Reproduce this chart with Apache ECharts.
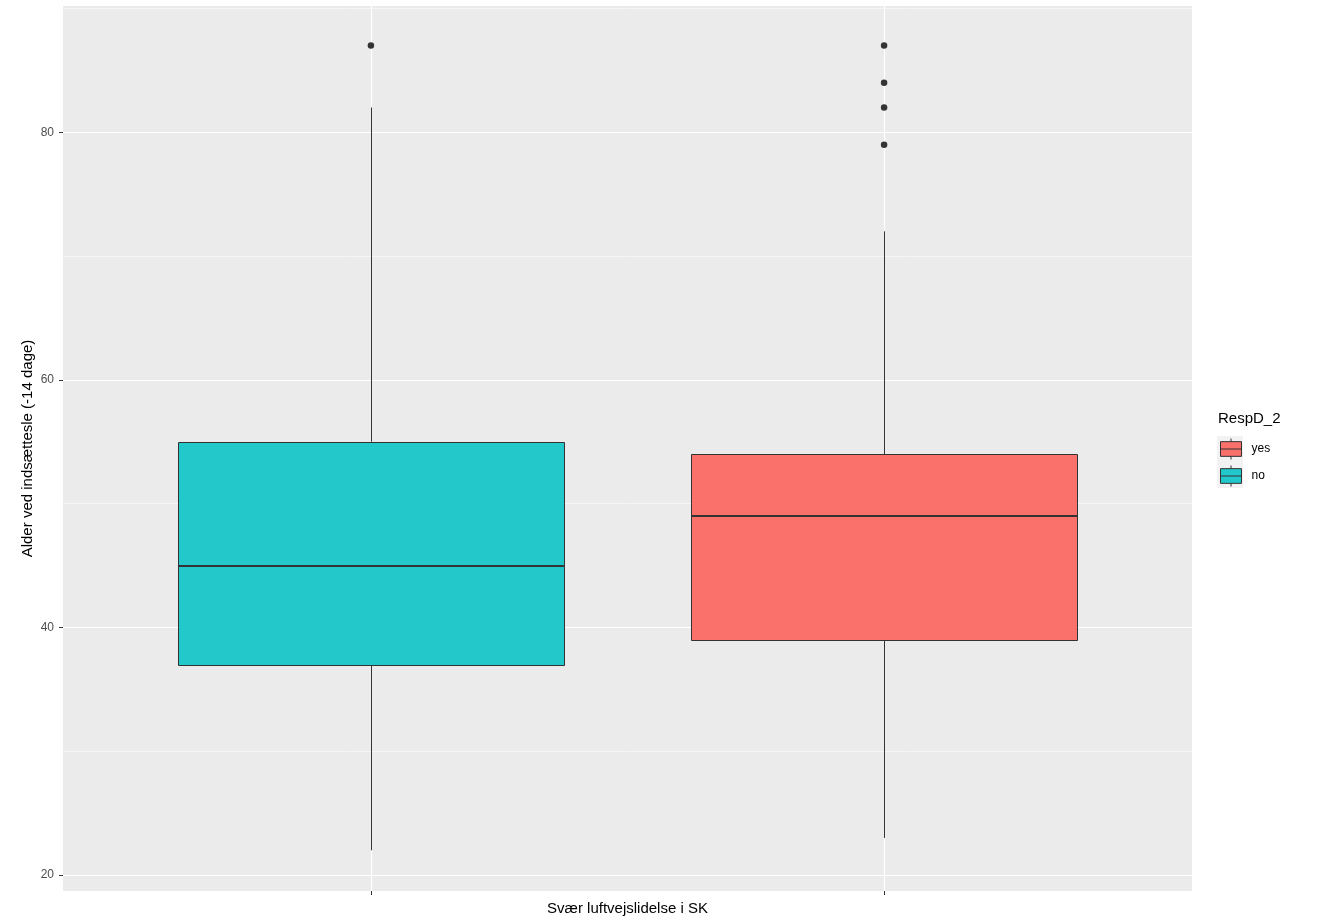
<!DOCTYPE html>
<html>
<head>
<meta charset="utf-8">
<script src="https://cdn.jsdelivr.net/npm/echarts@6/dist/echarts.min.js"></script>
<style>html,body{margin:0;padding:0;background:#fff}#c{width:1317px;height:920px}</style>
</head>
<body>
<div id="c"></div>
<script>
// ---- data ----
const groups = ['yes', 'no'];
const groupColors = ['#FA716C', '#22C8CA'];
// [lowerWhisker, Q1, median, Q3, upperWhisker]
const statsYes = [23, 39, 49, 54, 72];
const statsNo = [22, 37, 45, 55, 82];
const outliersYes = [87, 84, 82, 79];
const outliersNo = [87];
const yTicks = [20, 40, 60, 80];
const yMinorLines = [30, 50, 70, 90];
const xTitle = 'Svær luftvejslidelse i SK';
const yTitle = 'Alder ved indsættesle (-14 dage)';
const legendTitle = 'RespD_2';

// ---- layout ----
const groupPos = { yes: 8, no: 3 };
const HALF = 1.88;
const FONT = '"Liberation Sans", Arial, sans-serif';

function crisp(v) { return Math.round(v) + 0.5; }

function boxRender(color) {
  return function (params, api) {
    const x = api.value(0);
    const lo = api.coord([x, api.value(1)]);
    const q1 = api.coord([x, api.value(2)]);
    const md = api.coord([x, api.value(3)]);
    const q3 = api.coord([x, api.value(4)]);
    const hi = api.coord([x, api.value(5)]);
    const left = api.coord([x - HALF, 0])[0];
    const right = api.coord([x + HALF, 0])[0];
    const cx = crisp(lo[0]);
    const ls = { stroke: '#333333', lineWidth: 1 };
    return {
      type: 'group',
      children: [
        { type: 'line', shape: { x1: cx, y1: hi[1], x2: cx, y2: q3[1] }, style: ls },
        { type: 'line', shape: { x1: cx, y1: q1[1], x2: cx, y2: lo[1] }, style: ls },
        { type: 'rect', shape: { x: crisp(left), y: crisp(q3[1]), width: Math.round(right - left), height: Math.round(q1[1] - q3[1]) },
          style: { fill: color, stroke: '#333333', lineWidth: 1 } },
        { type: 'line', shape: { x1: left, y1: Math.round(md[1]), x2: right, y2: Math.round(md[1]) },
          style: { stroke: '#333333', lineWidth: 2 } }
      ]
    };
  };
}

const statsByGroup = { yes: statsYes, no: statsNo };
const outByGroup = { yes: outliersYes, no: outliersNo };

const series = [];
// holder for the minor horizontal grid lines
series.push({
  type: 'scatter', data: [], silent: true, z: 0,
  markLine: {
    silent: true, symbol: 'none', label: { show: false }, z: 0,
    lineStyle: { color: '#FAFAFA', width: 0.7, type: 'solid' },
    data: yMinorLines.map(v => ({ yAxis: v }))
  }
});
groups.forEach((g, i) => {
  series.push({
    name: g, type: 'custom', z: 5,
    renderItem: boxRender(groupColors[i]),
    itemStyle: { color: groupColors[i], borderColor: '#333333', borderWidth: 1 },
    encode: { x: 0, y: [1, 2, 3, 4, 5] },
    data: [[groupPos[g]].concat(statsByGroup[g])]
  });
});
series.push({
  type: 'scatter', z: 6, symbolSize: 6.5,
  itemStyle: { color: '#333333', opacity: 1 },
  data: groups.flatMap(g => outByGroup[g].map(v => [groupPos[g], v]))
});

const option = {
  animation: false,
  backgroundColor: '#ffffff',
  title: {
    text: legendTitle, left: 1218, top: 411, padding: 0,
    textStyle: { fontFamily: FONT, fontSize: 15, fontWeight: 'normal', color: '#000000' }
  },
  legend: {
    data: groups, orient: 'vertical', left: 1220, top: 438, padding: 0,
    itemWidth: 21, itemHeight: 21, itemGap: 5,
    icon: 'path://M10 0 L10 3 M0 3 L20 3 L20 17 L0 17 Z M0 10 L20 10 M10 17 L10 20',
    itemStyle: { borderColor: '#333333', borderWidth: 1 },
    textStyle: { fontFamily: FONT, fontSize: 12, color: '#000000', padding: [0, 0, 0, 5] },
    selectedMode: false
  },
  graphic: [{
    type: 'rect', left: 1217, top: 436, z: -1,
    shape: { width: 26, height: 52 }, style: { fill: '#F2F2F2' }
  }],
  grid: {
    left: 63, right: 125, top: 6, bottom: 29, show: true, backgroundColor: '#EBEBEB', borderWidth: 0,
    containLabel: false, outerBoundsMode: 'none'
  },
  xAxis: {
    type: 'value', min: 0, max: 11,
    name: xTitle, nameLocation: 'middle', nameGap: 10, nameMoveOverlap: false,
    nameTextStyle: { fontFamily: FONT, fontSize: 15, color: '#000000' },
    axisLine: { show: false },
    axisTick: { show: true, length: 4, lineStyle: { color: '#333333', width: 1 }, customValues: [groupPos.no, groupPos.yes] },
    axisLabel: { show: false, customValues: [groupPos.no, groupPos.yes] },
    splitLine: { show: true, lineStyle: { color: '#ffffff', width: 1.2 } }
  },
  yAxis: {
    type: 'value', min: 18.71, max: 90.2,
    name: yTitle, nameLocation: 'middle', nameRotate: 90, nameGap: 28, nameMoveOverlap: false,
    nameTextStyle: { fontFamily: FONT, fontSize: 15, color: '#000000' },
    axisLine: { show: false },
    axisTick: { show: true, length: 4, lineStyle: { color: '#333333', width: 1 }, customValues: yTicks },
    axisLabel: { customValues: yTicks, margin: 9, fontFamily: FONT, fontSize: 12, color: '#4D4D4D' },
    splitLine: { show: true, lineStyle: { color: '#ffffff', width: 1.2 } }
  },
  series: series
};
echarts.init(document.getElementById('c'), null, { renderer: 'canvas' }).setOption(option);
</script>
</body>
</html>
